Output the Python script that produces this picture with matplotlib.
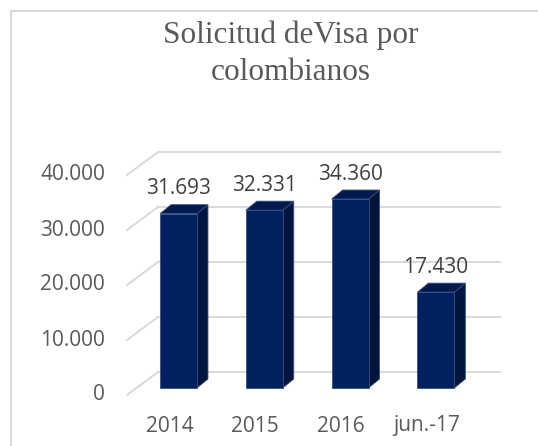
import numpy as np
import matplotlib.pyplot as plt
from matplotlib.patches import Polygon, Rectangle

categories = ['2014', '2015', '2016', 'jun.-17']
values = [31693, 32331, 34360, 17430]
value_labels = ['31.693', '32.331', '34.360', '17.430']
ticks = [0, 10000, 20000, 30000, 40000]
tick_labels = ['0', '10.000', '20.000', '30.000', '40.000']

W, H = 538, 446
fig = plt.figure(figsize=(W / 100, H / 100), dpi=100)
ax = fig.add_axes([0, 0, 1, 1])
ax.set_axis_off()

# pixel scales of the bar-front plane
px_x = 85.8      # pixels per category
px_y = 0.0055    # pixels per unit
x0_px, y0_px = 178.5, 388
ax.set_xlim(-x0_px / px_x, (W - x0_px) / px_x)
ax.set_ylim((y0_px - H) / px_y, y0_px / px_y)

def dx(p):
    return p / px_x

def dy(p):
    return p / px_y

grid_c = '#d9d9d9'
text_c = '#595959'
font = 'Open Sans'

# back wall and left floor/side lines
back_l, back_r = dx(158 - x0_px), dx(500 - x0_px)
front_l = dx(127 - x0_px)
for g in ticks:
    ax.plot([back_l, back_r], [g + dy(16), g + dy(16)], color=grid_c, lw=1.4, zorder=1)
    ax.plot([front_l, back_l], [g - dy(7), g + dy(16)], color=grid_c, lw=1.4, zorder=1)

for g, lab in zip(ticks, tick_labels):
    ax.text(dx(105 - x0_px), g - dy(7), lab, ha='right', va='center',
            fontsize=15, color=text_c, family=font)

# bars with depth
bw = 0.43
ddx, ddy = dx(11), dy(9)
front_c, side_c, top_c, edge_c = '#002060', '#00153e', '#001a4d', '#3a4f80'
xs = np.arange(len(categories))
ax.bar(xs, values, width=bw, color=front_c, edgecolor=edge_c, linewidth=0.6, zorder=3)
for x, v in zip(xs, values):
    r, l = x + bw / 2, x - bw / 2
    side = Polygon([(r, 0), (r + ddx, ddy), (r + ddx, v + ddy), (r, v)],
                   closed=True, facecolor=side_c, edgecolor=edge_c, lw=0.6, zorder=2)
    top = Polygon([(l, v), (r, v), (r + ddx, v + ddy), (l + ddx, v + ddy)],
                  closed=True, facecolor=top_c, edgecolor=edge_c, lw=0.6, zorder=2)
    ax.add_patch(side)
    ax.add_patch(top)

for x, v, lab in zip(xs, values, value_labels):
    ax.annotate(lab, (x, v), xytext=(0, 25 * 0.72), textcoords='offset points',
                ha='center', va='center', fontsize=15, color='#404040', family=font)

for x, lab in zip(xs, categories):
    ax.text(x - dx(9), -dy(38), lab, ha='center', va='center',
            fontsize=15, color=text_c, family=font)

# title
fig.text(291 / W, 1 - 43 / H, 'Solicitud deVisa por', ha='center', va='baseline',
         fontsize=22.5, color=text_c, family='Liberation Serif')
fig.text(291 / W, 1 - 80 / H, 'colombianos', ha='center', va='baseline',
         fontsize=22.5, color=text_c, family='Liberation Serif')

# chart border (only top and left fall inside the picture)
fig.patches.append(Rectangle((10.5 / W, -0.2), 1.2, 1.2 - 10.5 / H, transform=fig.transFigure,
                             fill=False, edgecolor=grid_c, lw=1.5))

fig.savefig('out.png', dpi=100)
